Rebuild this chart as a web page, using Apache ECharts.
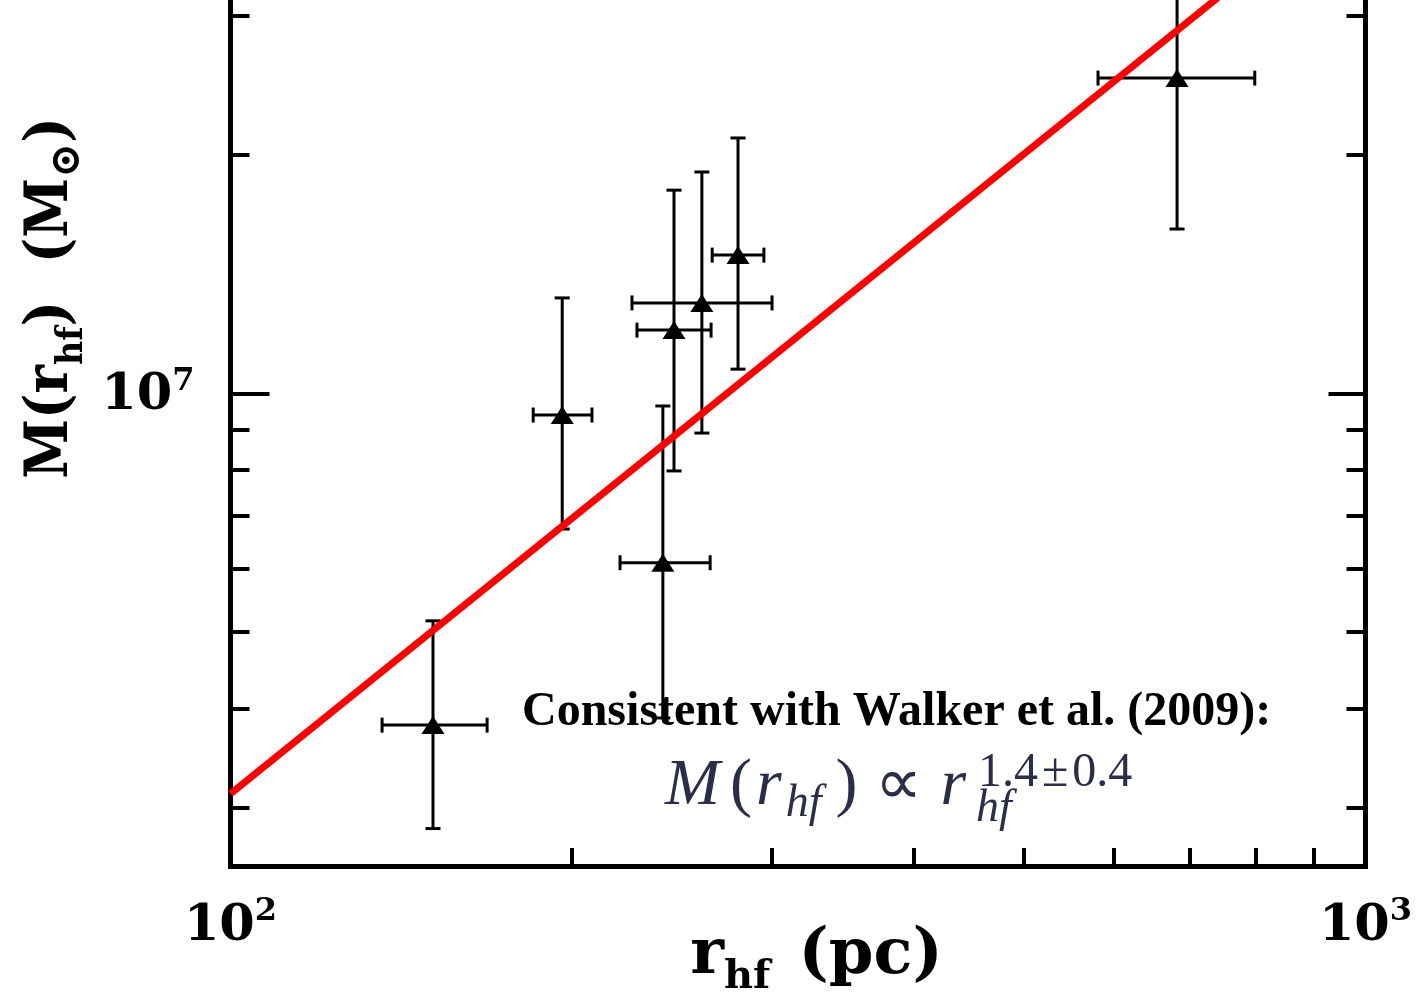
<!DOCTYPE html>
<html>
<head>
<meta charset="utf-8">
<script src="https://cdn.jsdelivr.net/npm/echarts@6/dist/echarts.min.js"></script>
<style>
  html, body { margin: 0; padding: 0; background: #ffffff; }
  #chart { width: 1424px; height: 1003px; }
</style>
</head>
<body>
<div id="chart"></div>
<script>
// Half-light radius (pc) and enclosed mass (solar masses) with error ranges
const radius     = [150.8, 196.0, 240.4, 245.9, 260.2, 280.0, 682.3];
const radiusLow  = [136.0, 184.8, 220.4, 228.1, 225.8, 265.7, 581.2];
const radiusHigh = [168.3, 208.2, 264.6, 265.1, 300.0, 295.1, 798.8];
const mass       = [3.81e6, 9.39e6, 6.11e6, 1.202e7, 1.301e7, 1.495e7, 2.502e7];
const massLow    = [2.82e6, 6.74e6, 3.89e6, 7.98e6, 8.91e6, 1.073e7, 1.613e7];
const massHigh   = [5.16e6, 1.320e7, 9.64e6, 1.806e7, 1.904e7, 2.102e7, 3.6e7];

// Power-law fit evaluated at the two ends of the radius range
const fitRadius = [100, 1000];
const fitMass   = [3.12e6, 4.47e7];

// Axis ranges and tick positions
const xRange = [100, 1000];
const yRange = [2.529e6, 3.14e7];
const xLabelTicks = [100, 1000];
const xMinorTicks = [200, 300, 400, 500, 600, 700, 800, 900];
const yMajorTicks = [1e7];
const yMinorTicks = [3e6, 4e6, 5e6, 6e6, 7e6, 8e6, 9e6, 2e7, 3e7];

const axisFont = 'DejaVu Serif';
const condensedFont = '"DejaVu Serif Condensed", "DejaVu Serif"';
const black = '#000000';
const formulaColor = '#2b2e48';

function powerLabel(v) {
  const e = Math.round(Math.log10(v));
  return '{b|10}{s|' + e + '}';
}
const powerRich = {
  b: { fontFamily: axisFont, fontWeight: 'bold', fontSize: 51, color: black, lineHeight: 56, verticalAlign: 'bottom' },
  s: { fontFamily: axisFont, fontWeight: 'bold', fontSize: 32, color: black, lineHeight: 30, verticalAlign: 'top' }
};

const xNameRich = {
  n: { fontFamily: axisFont, fontWeight: 'bold', fontSize: 64, color: black, lineHeight: 64, verticalAlign: 'top' },
  sub: { fontFamily: axisFont, fontWeight: 'bold', fontSize: 40, color: black, lineHeight: 40, verticalAlign: 'top', padding: [34, 6, 0, 0] }
};
const yNameRich = {
  n: { fontFamily: condensedFont, fontWeight: 'bold', fontSize: 60, color: black, lineHeight: 64, verticalAlign: 'top' },
  sub: { fontFamily: condensedFont, fontWeight: 'bold', fontSize: 37, color: black, lineHeight: 38, verticalAlign: 'top', padding: [32, 0, 0, 0] },
  sun: { fontFamily: axisFont, fontWeight: 'bold', fontSize: 42, color: black, lineHeight: 42, verticalAlign: 'top', padding: [26, 0, 0, 0] }
};

function logAxis(extra) {
  return Object.assign({
    type: 'log',
    logBase: 10,
    splitLine: { show: false },
    minorTick: { show: false },
    minorSplitLine: { show: false },
    nameMoveOverlap: false
  }, extra);
}

const hiddenLabel = { show: false };

const option = {
  backgroundColor: '#ffffff',
  animation: false,
  grid: { left: 230.5, right: 58.5, top: 0, bottom: 137, containLabel: false, outerBoundsMode: 'none' },
  xAxis: [
    logAxis({
      min: xRange[0], max: xRange[1], position: 'bottom',
      axisLine: { show: true, lineStyle: { color: black, width: 5, cap: 'square' } },
      axisTick: { show: true, inside: true, length: 18, customValues: xMinorTicks, lineStyle: { color: black, width: 4 } },
      axisLabel: { show: true, customValues: xLabelTicks, formatter: powerLabel, rich: powerRich, margin: 30 },
      name: '{n|r}{sub|hf}{n| (pc)}',
      nameLocation: 'middle',
      nameGap: 58,
      nameTextStyle: { rich: xNameRich, padding: [0, 0, 0, 37] }
    })
  ],
  yAxis: [
    logAxis({
      min: yRange[0], max: yRange[1], position: 'left',
      axisLine: { show: true, lineStyle: { color: black, width: 5, cap: 'square' } },
      axisTick: { show: true, inside: true, length: 39, customValues: yMajorTicks, lineStyle: { color: black, width: 4 } },
      axisLabel: { show: true, customValues: yMajorTicks, formatter: powerLabel, rich: powerRich, margin: 36 },
      name: '{n|M(r}{sub|hf}{n|)  (M}{sun|⊙}{n|)}',
      nameLocation: 'middle',
      nameRotate: 90,
      nameGap: 145,
      nameTextStyle: { rich: yNameRich, padding: [0, 0, 0, 270] }
    }),
    logAxis({
      min: yRange[0], max: yRange[1], position: 'left',
      axisLine: { show: false },
      axisTick: { show: true, inside: true, length: 19, customValues: yMinorTicks, lineStyle: { color: black, width: 4 } },
      axisLabel: hiddenLabel
    }),
    logAxis({
      min: yRange[0], max: yRange[1], position: 'right',
      axisLine: { show: true, lineStyle: { color: black, width: 5, cap: 'square' } },
      axisTick: { show: true, inside: true, length: 37, customValues: yMajorTicks, lineStyle: { color: black, width: 4 } },
      axisLabel: hiddenLabel
    }),
    logAxis({
      min: yRange[0], max: yRange[1], position: 'right',
      axisLine: { show: false },
      axisTick: { show: true, inside: true, length: 19, customValues: yMinorTicks, lineStyle: { color: black, width: 4 } },
      axisLabel: hiddenLabel
    })
  ],
  series: [
    {
      // horizontal and vertical error bars with end caps
      type: 'custom',
      xAxisIndex: 0,
      yAxisIndex: 0,
      clip: false,
      z: 2,
      data: radius.map((r, i) => [r, mass[i], radiusLow[i], radiusHigh[i], massLow[i], massHigh[i]]),
      encode: { x: [0, 2, 3], y: [1, 4, 5] },
      renderItem: function (params, api) {
        const c = api.coord([api.value(0), api.value(1)]);
        const xl = api.coord([api.value(2), api.value(1)])[0];
        const xh = api.coord([api.value(3), api.value(1)])[0];
        const yl = api.coord([api.value(0), api.value(4)])[1];
        const yh = api.coord([api.value(0), api.value(5)])[1];
        const cap = 7.5;
        const style = { stroke: black, lineWidth: 3, fill: null };
        const seg = (x1, y1, x2, y2) => ({ type: 'line', shape: { x1: x1, y1: y1, x2: x2, y2: y2 }, style: style });
        return {
          type: 'group',
          children: [
            seg(xl, c[1], xh, c[1]),
            seg(xl, c[1] - cap, xl, c[1] + cap),
            seg(xh, c[1] - cap, xh, c[1] + cap),
            seg(c[0], yl, c[0], yh),
            seg(c[0] - cap, yl, c[0] + cap, yl),
            seg(c[0] - cap, yh, c[0] + cap, yh)
          ]
        };
      }
    },
    {
      type: 'scatter',
      xAxisIndex: 0,
      yAxisIndex: 0,
      symbol: 'triangle',
      symbolSize: [23, 18],
      itemStyle: { color: black, opacity: 1 },
      z: 3,
      data: radius.map((r, i) => [r, mass[i]])
    },
    {
      type: 'line',
      xAxisIndex: 0,
      yAxisIndex: 0,
      clip: false,
      symbol: 'none',
      z: 4,
      lineStyle: { color: '#ff0000', width: 7 },
      data: fitRadius.map((r, i) => [r, fitMass[i]])
    }
  ],
  graphic: [
    {
      type: 'text',
      x: 522, y: 689,
      z: 10,
      style: {
        text: 'Consistent with Walker et al. (2009):',
        font: 'bold 48px "Liberation Serif"',
        fill: black,
        verticalAlign: 'top'
      }
    },
    {
      type: 'text',
      x: 665, y: 754,
      z: 10,
      style: {
        text: '{m|M}{p|(}{r|r}{sub|hf}{q|)}{o|∝}{i|r}',
        fill: formulaColor,
        rich: {
          m: { fontFamily: 'Liberation Serif', fontStyle: 'italic', fontSize: 66, lineHeight: 66, verticalAlign: 'top', fill: formulaColor, padding: [0, 10, 0, 0] },
          p: { fontFamily: 'Liberation Serif', fontSize: 66, lineHeight: 66, verticalAlign: 'top', fill: formulaColor, padding: [0, 4, 0, 0] },
          r: { fontFamily: 'Liberation Serif', fontStyle: 'italic', fontSize: 66, lineHeight: 66, verticalAlign: 'top', fill: formulaColor, padding: [0, 4, 0, 0] },
          sub: { fontFamily: 'Liberation Serif', fontStyle: 'italic', fontSize: 46, lineHeight: 46, verticalAlign: 'top', fill: formulaColor, padding: [27, 14, 0, 0] },
          q: { fontFamily: 'Liberation Serif', fontSize: 66, lineHeight: 66, verticalAlign: 'top', fill: formulaColor, padding: [0, 18, 0, 0] },
          o: { fontFamily: 'Liberation Serif', fontSize: 66, lineHeight: 66, verticalAlign: 'top', fill: formulaColor, padding: [0, 18, 0, 0] },
          i: { fontFamily: 'Liberation Serif', fontStyle: 'italic', fontSize: 66, lineHeight: 66, verticalAlign: 'top', fill: formulaColor }
        }
      }
    },
    {
      type: 'text',
      x: 978, y: 749,
      z: 10,
      style: {
        text: '{a|1.4}{b|±}{a|0.4}',
        fill: formulaColor,
        rich: {
          a: { fontFamily: 'Liberation Serif', fontSize: 48, lineHeight: 48, verticalAlign: 'top', fill: formulaColor },
          b: { fontFamily: 'Liberation Serif', fontSize: 48, lineHeight: 48, verticalAlign: 'top', fill: formulaColor, padding: [0, 4, 0, 4] }
        }
      }
    },
    {
      type: 'text',
      x: 976, y: 786,
      z: 10,
      style: {
        text: 'hf',
        font: 'italic 46px "Liberation Serif"',
        fill: formulaColor,
        verticalAlign: 'top'
      }
    }
  ]
};

const chart = echarts.init(document.getElementById('chart'), null, { renderer: 'canvas' });
chart.setOption(option);
</script>
</body>
</html>
